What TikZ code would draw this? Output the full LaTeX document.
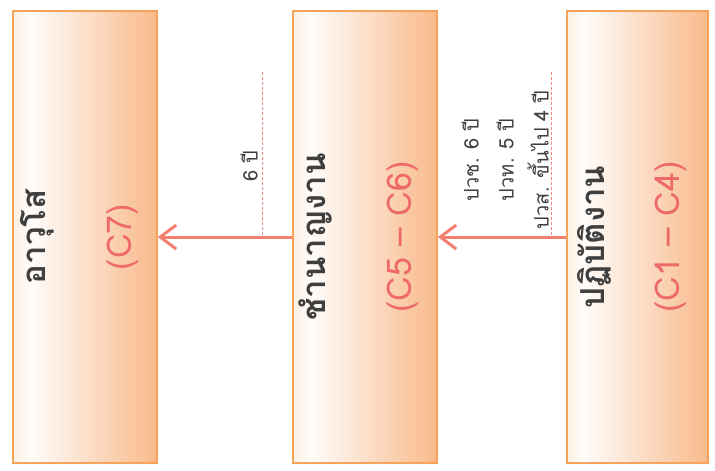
\documentclass[tikz,border=0pt]{standalone}
\usepackage{fontspec}
\usetikzlibrary{arrows.meta}
\newfontfamily\thaifont[Script=Thai]{Loma}
\definecolor{boxline}{HTML}{F7A35C}
\definecolor{boxpale}{HTML}{FDEFE2}
\definecolor{boxdeep}{HTML}{F8BA8A}
\definecolor{promoteline}{HTML}{F4806F}
\definecolor{yearline}{HTML}{F28585}
\definecolor{classmark}{HTML}{EE6A6A}
\definecolor{namegray}{HTML}{3F3F3F}
\pgfdeclarehorizontalshading{rankfade}{100bp}{color(0bp)=(boxpale); color(25bp)=(boxpale); color(31bp)=(white!96!boxdeep); color(75bp)=(boxdeep); color(100bp)=(boxdeep)}
\tikzset{
	rankbox/.style={draw=boxline,line width=1.5pt,shading=rankfade,minimum width=144pt,minimum height=452pt,inner sep=0pt},
	rankname/.style={rotate=90,text=namegray,font=\thaifont\bfseries\fontsize{33}{40}\selectfont},
	rankclass/.style={rotate=90,text=classmark,font=\thaifont\fontsize{34}{40}\selectfont},
	promote/.style={draw=promoteline,line width=3pt,-{Straight Barb[length=16pt,width=24pt,line width=3pt]}},
	yeartick/.style={draw=yearline,line width=0.8pt,dash pattern=on 3pt off 2pt},
	yearnote/.style={rotate=90,anchor=south,inner sep=1pt,align=center,text=namegray,font=\thaifont\fontsize{20}{35}\selectfont}
}
\begin{document}
\begin{tikzpicture}[x=1pt,y=-1pt]
\useasboundingbox (0,0) rectangle (715,471);

\node[rankbox] (senior) at (85,237) {};
\node[rankbox] (expert) at (365,237) {};
\node[rankbox,minimum width=141pt] (practice) at (637.5,237) {};

\node[rankname] (seniorname) at ([xshift=25pt]senior.west) {อาวุโส};
\node[rankclass] (seniorclass) at ([xshift=110pt]senior.west) {(C7)};
\node[rankname] (expertname) at ([xshift=23pt]expert.west) {ชำนาญงาน};
\node[rankclass] (expertclass) at ([xshift=110pt]expert.west) {(C5 – C6)};
\node[rankname] (practicename) at ([xshift=28pt]practice.west) {ปฏิบัติงาน};
\node[rankclass] (practiceclass) at ([xshift=104pt]practice.west) {(C1 – C4)};

\draw[promote] (practice.west) -- (expert.east);
\draw[promote] (expert.west) -- (senior.east);

\coordinate (practicetick) at (551,72);
\coordinate (experttick) at (262,72);
\draw[yeartick] (practicetick) -- (practicetick |- practice.west);
\draw[yeartick] (experttick) -- (experttick |- expert.west);

\node[yearnote] (practiceyears) at (550,160) {ปวช. 6 ปี\\ปวท. 5 ปี\\ปวส. ขึ้นไป 4 ปี};
\node[yearnote] (expertyears) at (259,166) {6 ปี};
\end{tikzpicture}
\end{document}
